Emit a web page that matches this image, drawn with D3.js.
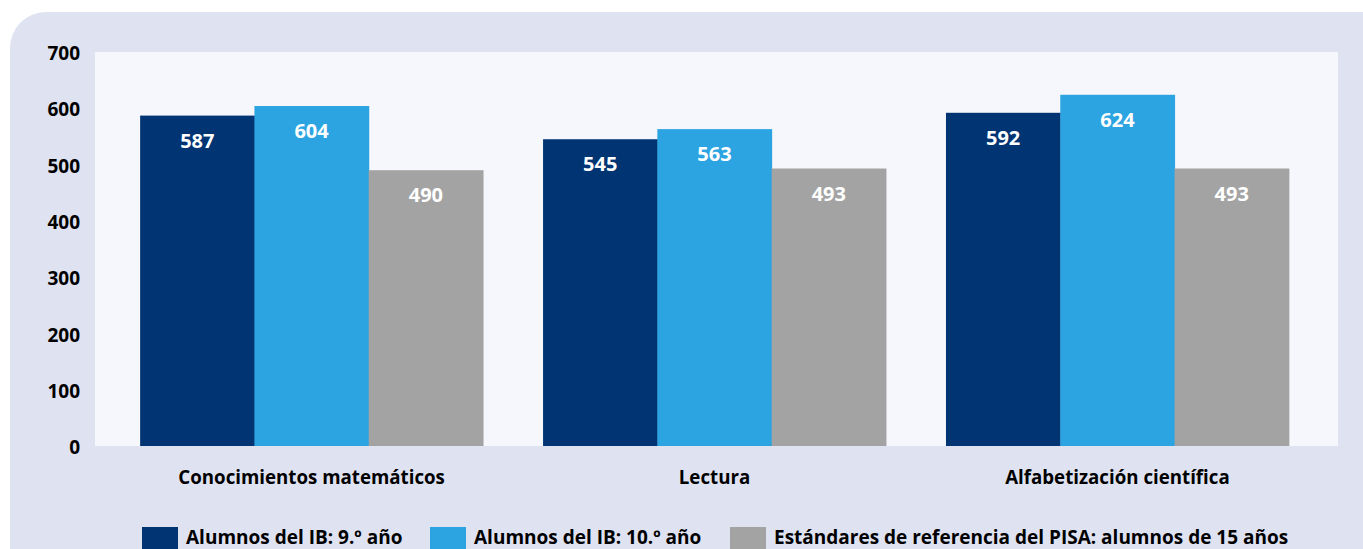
<!DOCTYPE html>
<html>
<head>
<meta charset="utf-8">
<script src="https://cdnjs.cloudflare.com/ajax/libs/d3/7.8.5/d3.min.js"></script>
<style>
  body { margin: 0; background: #ffffff; }
  svg text { font-family: "Open Sans", "Noto Sans", sans-serif; font-weight: 700; }
</style>
</head>
<body>
<div id="chart"></div>
<script>
var categories = ["Conocimientos matemáticos", "Lectura", "Alfabetización científica"]
var seriesNames = ["Alumnos del IB: 9.º año", "Alumnos del IB: 10.º año", "Estándares de referencia del PISA: alumnos de 15 años"]
var ib9 = [587, 545, 592]
var ib10 = [604, 563, 624]
var pisa = [490, 493, 493]
var yTicks = [0, 100, 200, 300, 400, 500, 600, 700]
var colors = ["#003473", "#2ca4e1", "#a3a3a3"]

var width = 1363, height = 549
var margin = {left: 95, right: 25, top: 52, bottom: 103}

var svg = d3.select("#chart").append("svg")
    .attr("width", width)
    .attr("height", height)

// outer panel
svg.append("rect")
    .attr("x", 10).attr("y", 12)
    .attr("width", width + 40).attr("height", height + 40)
    .attr("rx", 36)
    .attr("fill", "#dfe3f1")

var x0 = d3.scaleBand()
    .domain(categories)
    .range([margin.left - 2, width - margin.right - 2])
    .paddingInner(0.149)
    .paddingOuter(0.117)

var x1 = d3.scaleBand()
    .domain(d3.range(seriesNames.length))
    .range([0, x0.bandwidth()])

var y = d3.scaleLinear()
    .domain([0, 700])
    .range([height - margin.bottom, margin.top])

// plot background
svg.append("rect")
    .attr("x", margin.left).attr("y", margin.top)
    .attr("width", width - margin.right - margin.left)
    .attr("height", height - margin.bottom - margin.top)
    .attr("fill", "#f6f7fc")

var rows = categories.map(function(c, i){
    return {cat: c, vals: [ib9[i], ib10[i], pisa[i]]}
})

var groups = svg.selectAll(".grp")
    .data(rows)
    .enter()
    .append("g")
    .attr("class", "grp")
    .attr("transform", function(d){ return "translate(" + x0(d.cat) + ",0)" })

groups.selectAll("rect")
    .data(function(d){ return d.vals })
    .enter()
    .append("rect")
    .attr("x", function(d, i){ return x1(i) })
    .attr("y", function(d){ return y(d) })
    .attr("width", x1.bandwidth() + 0.5)
    .attr("height", function(d){ return y(0) - y(d) })
    .attr("fill", function(d, i){ return colors[i] })

groups.selectAll(".val")
    .data(function(d){ return d.vals })
    .enter()
    .append("text")
    .attr("class", "val")
    .attr("x", function(d, i){ return x1(i) + x1.bandwidth() / 2 })
    .attr("y", function(d){ return y(d) + 32 })
    .attr("text-anchor", "middle")
    .attr("fill", "#ffffff")
    .style("font-size", "20px")
    .text(function(d){ return d })

// y axis
var yAxis = d3.axisLeft(y)
    .tickValues(yTicks)
    .tickSize(0)
    .tickPadding(15)

var ya = svg.append("g")
    .attr("transform", "translate(" + margin.left + ",0)")
    .call(yAxis)
ya.select(".domain").remove()
ya.selectAll("text")
    .attr("fill", "#000")
    .attr("dy", "0.4em")
    .style("font-size", "19px")
    .style("font-family", "'Open Sans', sans-serif")
    .style("font-weight", "700")

// x axis labels
var xAxis = d3.axisBottom(x0).tickSize(0).tickPadding(25)
var xa = svg.append("g")
    .attr("transform", "translate(0," + y(0) + ")")
    .call(xAxis)
xa.select(".domain").remove()
xa.selectAll("text")
    .attr("fill", "#000")
    .style("font-size", "18.7px")
    .style("font-family", "'Open Sans', sans-serif")
    .style("font-weight", "700")

// legend
var legX = [142, 430, 730]
var leg = svg.selectAll(".leg")
    .data(seriesNames)
    .enter()
    .append("g")
    .attr("class", "leg")
    .attr("transform", function(d, i){ return "translate(" + legX[i] + ",527)" })

leg.append("rect")
    .attr("width", 36).attr("height", 24)
    .attr("fill", function(d, i){ return colors[i] })

leg.append("text")
    .attr("x", 44).attr("y", 17)
    .attr("fill", "#000")
    .style("font-size", "19px")
    .text(function(d){ return d })
</script>
</body>
</html>
